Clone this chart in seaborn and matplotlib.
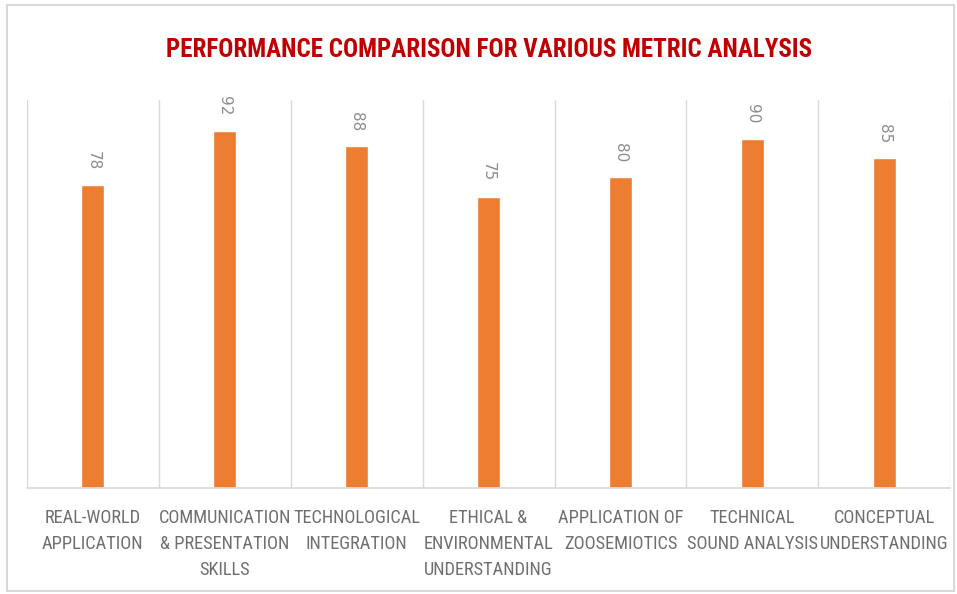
import pandas as pd
import seaborn as sns
import matplotlib.pyplot as plt
from matplotlib import font_manager
from matplotlib.patches import Rectangle

sns.set_theme(style="white")

# condensed font, closest to the squeezed Calibri look of the original
names = set(f.name for f in font_manager.fontManager.ttflist)
choices = ["Roboto Condensed", "Open Sans Condensed", "Asap Condensed",
           "Liberation Sans Narrow"]
font = next((n for n in choices if n in names), "DejaVu Sans")
plt.rcParams["font.family"] = [font, "DejaVu Sans"]
if font == "DejaVu Sans":
    title_size, tick_size = 13, 10.5
else:
    title_size, tick_size = 18, 13.2

metrics = ["REAL-WORLD\nAPPLICATION",
           "COMMUNICATION\n& PRESENTATION\nSKILLS",
           "TECHNOLOGICAL\nINTEGRATION",
           "ETHICAL &\nENVIRONMENTAL\nUNDERSTANDING",
           "APPLICATION OF\nZOOSEMIOTICS",
           "TECHNICAL\nSOUND ANALYSIS",
           "CONCEPTUAL\nUNDERSTANDING"]
scores = [78, 92, 88, 75, 80, 90, 85]

df = pd.DataFrame({"metric": metrics, "score": scores})

fig = plt.figure(figsize=(9.57, 5.94), dpi=100)
ax = fig.add_axes([0.028, 0.178, 0.965, 0.654])

sns.barplot(x="metric", y="score", data=df, color="#ED7D31", width=0.175,
            saturation=1, ax=ax)

for i, v in enumerate(scores):
    ax.annotate(str(v), (i, v), xytext=(0, 11), textcoords="offset points",
                ha="center", va="bottom", rotation=270, color="#8c8c8c",
                fontsize=11, family="DejaVu Sans")

ax.set_ylim(0, 100)
ax.set_xlim(-0.5, len(metrics) - 0.5)
ax.set_yticks([])
ax.set_xticks([i + 0.5 for i in range(-1, len(metrics))], minor=True)
ax.grid(True, axis="x", which="minor", color="#d9d9d9", linewidth=1)
ax.grid(False, axis="x", which="major")
ax.tick_params(axis="x", which="both", length=0, pad=15)
plt.setp(ax.get_xticklabels(), color="#6f6f6f", fontsize=tick_size, linespacing=1.55)
ax.set_xlabel("")
ax.set_ylabel("")
for s in ["top", "left", "right"]:
    ax.spines[s].set_visible(False)
ax.spines["bottom"].set_color("#d9d9d9")

fig.text(0.511, 0.915, "PERFORMANCE COMPARISON FOR VARIOUS METRIC ANALYSIS",
         ha="center", va="center", color="#C00000", fontsize=title_size,
         fontweight="bold")

fig.patches.append(Rectangle((0.007, 0.005), 0.99, 0.987, transform=fig.transFigure,
                             fill=False, edgecolor="#d9d9d9", linewidth=1.5))

fig.savefig("out.png", dpi=100)
